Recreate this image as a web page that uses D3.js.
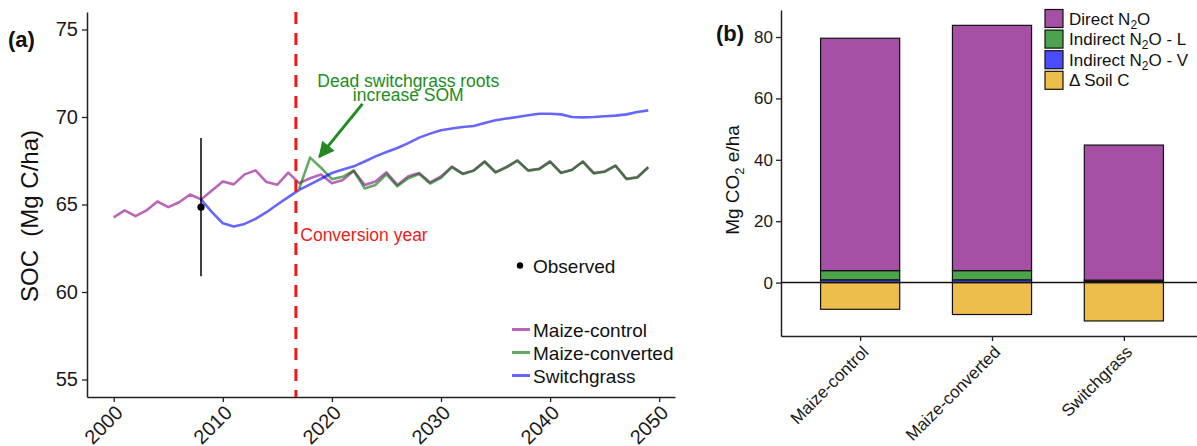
<!DOCTYPE html>
<html>
<head>
<meta charset="utf-8">
<script src="https://cdn.jsdelivr.net/npm/d3@7"></script>
<style>
  body { margin: 0; background: #fff; }
  text { font-family: "Liberation Sans", Arial, sans-serif; }
</style>
</head>
<body>
<script>
// ---- panel (a): SOC through time ----
var years = d3.range(2000, 2050);
var maizeControl = [64.27, 64.66, 64.33, 64.66, 65.17, 64.85, 65.13, 65.57, 65.29, 65.80,
                    66.32, 66.15, 66.72, 66.95, 66.28, 66.13, 66.82, 66.22, 66.50, 66.72,
                    66.22, 66.40, 66.93, 66.12, 66.32, 66.84, 66.12, 66.62, 66.80, 66.26,
                    66.60, 67.16, 66.76, 66.95, 67.46, 66.85, 67.14, 67.52, 66.95, 67.04,
                    67.46, 66.82, 66.99, 67.46, 66.80, 66.89, 67.23, 66.47, 66.56, 67.14];
var convertedStart = 2017;
var maizeConverted = [65.90, 67.68, 67.10, 66.45, 66.58, 66.93, 65.92, 66.12, 66.72, 66.04,
                      66.50, 66.74, 66.20, 66.52, 67.14, 66.74, 66.93, 67.44, 66.83, 67.12,
                      67.50, 66.93, 67.02, 67.44, 66.80, 66.97, 67.44, 66.78, 66.87, 67.21,
                      66.45, 66.54, 67.12];
var switchStart = 2008;
var switchgrass = [65.29, 64.56, 63.93, 63.74, 63.89, 64.18, 64.56, 65.00, 65.42, 65.84,
                   66.15, 66.47, 66.80, 67.00, 67.18, 67.46, 67.75, 68.00, 68.23, 68.51,
                   68.82, 69.05, 69.24, 69.34, 69.43, 69.49, 69.66, 69.81, 69.91, 70.00,
                   70.10, 70.19, 70.19, 70.15, 70.00, 69.98, 70.00, 70.04, 70.08, 70.15,
                   70.29, 70.38];
var observedYear = 2008, observedMean = 64.85, observedErr = 3.95;
var conversionYear = 2016.7;
var xTicksA = [2000, 2010, 2020, 2030, 2040, 2050];
var yTicksA = [55, 60, 65, 70, 75];

// ---- panel (b): CO2 equivalents ----
var categories = ["Maize-control", "Maize-converted", "Switchgrass"];
var directN2O = [75.7, 79.9, 44.0];
var indirectL = [3.0, 3.0, 0.45];
var indirectV = [0.9, 0.9, 0.35];
var soilC = [-8.7, -10.4, -12.5];
var yTicksB = [0, 20, 40, 60, 80];

var svg = d3.select('body').append('svg')
    .attr('width', 1197)
    .attr('height', 446);

var axisColor = '#222';

// ================= panel (a) =================
var xA = d3.scaleLinear().domain([1997.55, 2051.45]).range([87, 675]);
var yA = d3.scaleLinear().domain([54, 76]).range([397, 12]);

var gxA = svg.append('g')
    .attr('transform', 'translate(0,397)')
    .call(d3.axisBottom(xA).tickValues(xTicksA).tickFormat(d3.format('d')).tickSize(5).tickSizeOuter(0));
gxA.selectAll('text')
    .attr('x', 0).attr('y', 0).attr('dy', 0)
    .attr('transform', 'translate(10,17) rotate(-45)')
    .style('text-anchor', 'end');

var gyA = svg.append('g')
    .attr('transform', 'translate(87,0)')
    .call(d3.axisLeft(yA).tickValues(yTicksA).tickSize(5).tickPadding(4).tickSizeOuter(0));

[gxA, gyA].forEach(function (g) {
    g.attr('font-size', 20).attr('font-family', '"Liberation Sans", Arial, sans-serif');
    g.selectAll('text').attr('fill', '#1a1a1a');
    g.select('.domain').attr('stroke', axisColor).attr('stroke-width', 1.5);
    g.selectAll('.tick line').attr('stroke', axisColor).attr('stroke-width', 1.3);
});

var line = d3.line()
    .x(function (d) { return xA(d.year); })
    .y(function (d) { return yA(d.v); });

function toPoints(start, vals) {
    return vals.map(function (v, i) { return { year: start + i, v: v }; });
}

var seriesA = [
    { name: 'Maize-control', color: 'rgb(139,0,139)', pts: toPoints(2000, maizeControl) },
    { name: 'Maize-converted', color: 'rgb(0,112,0)', pts: toPoints(convertedStart, maizeConverted) },
    { name: 'Switchgrass', color: 'rgb(0,0,255)', pts: toPoints(switchStart, switchgrass) }
];

svg.selectAll('path.series')
    .data(seriesA)
    .enter()
    .append('path')
    .attr('class', 'series')
    .attr('d', function (d) { return line(d.pts); })
    .attr('fill', 'none')
    .attr('stroke', function (d) { return d.color; })
    .attr('stroke-opacity', 0.6)
    .attr('stroke-width', 2.6)
    .attr('stroke-linejoin', 'round');

// observed point with error bar
svg.append('line')
    .attr('x1', xA(observedYear)).attr('x2', xA(observedYear))
    .attr('y1', yA(observedMean + observedErr)).attr('y2', yA(observedMean - observedErr))
    .attr('stroke', '#000').attr('stroke-width', 1.5);
svg.append('circle')
    .attr('cx', xA(observedYear)).attr('cy', yA(observedMean))
    .attr('r', 3.6).attr('fill', '#000');

// conversion year
svg.append('line')
    .attr('x1', xA(conversionYear)).attr('x2', xA(conversionYear))
    .attr('y1', yA(76)).attr('y2', yA(54))
    .attr('stroke', '#f01818').attr('stroke-width', 3)
    .attr('stroke-dasharray', '12,9');

svg.append('text')
    .attr('x', xA(2017.1)).attr('y', yA(62.9))
    .attr('font-size', 17.5).attr('fill', '#ee1c1c')
    .text('Conversion year');

// annotation with arrow
var annGreen = 'rgb(34,139,34)';
svg.append('defs').append('marker')
    .attr('id', 'arrowhead')
    .attr('viewBox', '0 0 10 10')
    .attr('refX', 9).attr('refY', 5)
    .attr('markerUnits', 'userSpaceOnUse')
    .attr('markerWidth', 17).attr('markerHeight', 16)
    .attr('orient', 'auto')
    .append('path')
    .attr('d', 'M0,0 L10,5 L0,10 Z')
    .attr('fill', annGreen);

svg.append('line')
    .attr('x1', xA(2022.8)).attr('y1', yA(70.75))
    .attr('x2', xA(2018.85)).attr('y2', yA(67.72))
    .attr('stroke', annGreen).attr('stroke-width', 3)
    .attr('marker-end', 'url(#arrowhead)');

svg.append('text')
    .attr('x', xA(2027)).attr('y', yA(71.72))
    .attr('text-anchor', 'middle')
    .attr('font-size', 17.5).attr('fill', annGreen)
    .text('Dead switchgrass roots');
svg.append('text')
    .attr('x', xA(2027)).attr('y', yA(70.9))
    .attr('text-anchor', 'middle')
    .attr('font-size', 17.5).attr('fill', annGreen)
    .text('increase SOM');

// legend (a)
svg.append('circle').attr('cx', 520).attr('cy', 265.5).attr('r', 3.2).attr('fill', '#000');
svg.append('text').attr('x', 533).attr('y', 272.5).attr('font-size', 19).attr('fill', '#111').text('Observed');

var legA = svg.selectAll('g.legA')
    .data(seriesA)
    .enter()
    .append('g')
    .attr('class', 'legA')
    .attr('transform', function (d, i) { return 'translate(512,' + (329.5 + i * 23) + ')'; });
legA.append('line')
    .attr('x1', 0).attr('x2', 18)
    .attr('stroke', function (d) { return d.color; })
    .attr('stroke-opacity', 0.6)
    .attr('stroke-width', 3);
legA.append('text')
    .attr('x', 21).attr('y', 7)
    .attr('font-size', 19).attr('fill', '#111')
    .text(function (d) { return d.name; });

// titles (a)
svg.append('text')
    .attr('transform', 'translate(38,216) rotate(-90)')
    .attr('text-anchor', 'middle')
    .attr('font-size', 24).attr('fill', '#111')
    .attr('xml:space', 'preserve')
    .text('SOC  (Mg C/ha)');
svg.append('text')
    .attr('x', 8).attr('y', 47)
    .attr('font-size', 22).attr('font-weight', 'bold').attr('fill', '#111')
    .text('(a)');

// ================= panel (b) =================
var xB = d3.scalePoint().domain(categories).range([781, 1203]).padding(0.6);
var stepB = xB.step();
var barW = stepB * 0.6;
var yB = d3.scaleLinear().domain([-17.4, 88.8]).range([336, 10]);

var rows = categories.map(function (c, i) {
    return { cat: c, V: indirectV[i], L: indirectL[i], D: directN2O[i], S: soilC[i] };
});
var keysB = ['V', 'L', 'D', 'S'];
var fillB = { D: '#a54fa5', L: '#4ca34c', V: '#4b4bff', S: '#edbe4b' };
var stacked = d3.stack().keys(keysB).offset(d3.stackOffsetDiverging)(rows);

stacked.forEach(function (layer) {
    svg.append('g').selectAll('rect')
        .data(layer)
        .enter()
        .append('rect')
        .attr('x', function (d) { return xB(d.data.cat) - barW / 2; })
        .attr('y', function (d) { return yB(Math.max(d[0], d[1])); })
        .attr('width', barW)
        .attr('height', function (d) { return Math.abs(yB(d[0]) - yB(d[1])); })
        .attr('fill', fillB[layer.key])
        .attr('stroke', '#111')
        .attr('stroke-width', 1.2);
});

// zero line
svg.append('line')
    .attr('x1', 781).attr('x2', 1197)
    .attr('y1', yB(0)).attr('y2', yB(0))
    .attr('stroke', '#111').attr('stroke-width', 1.5);

var gxB = svg.append('g')
    .attr('transform', 'translate(0,336)')
    .call(d3.axisBottom(xB).tickSize(5).tickSizeOuter(0));
gxB.selectAll('text')
    .attr('x', 0).attr('y', 0).attr('dy', 0)
    .attr('transform', 'translate(9,17) rotate(-45)')
    .style('text-anchor', 'end');

var gyB = svg.append('g')
    .attr('transform', 'translate(781,0)')
    .call(d3.axisLeft(yB).tickValues(yTicksB).tickSize(5).tickPadding(3).tickSizeOuter(0));

[gxB, gyB].forEach(function (g) {
    g.attr('font-size', 17).attr('font-family', '"Liberation Sans", Arial, sans-serif');
    g.selectAll('text').attr('fill', '#1a1a1a');
    g.select('.domain').attr('stroke', axisColor).attr('stroke-width', 1.5);
    g.selectAll('.tick line').attr('stroke', axisColor).attr('stroke-width', 1.3);
});

// legend (b)
var legendB = [
    { key: 'D', parts: [['Direct N', ''], ['2', 'sub'], ['O', '']] },
    { key: 'L', parts: [['Indirect N', ''], ['2', 'sub'], ['O - L', '']] },
    { key: 'V', parts: [['Indirect N', ''], ['2', 'sub'], ['O - V', '']] },
    { key: 'S', parts: [['\u0394 Soil C', '']] }
];
var legB = svg.selectAll('g.legB')
    .data(legendB)
    .enter()
    .append('g')
    .attr('class', 'legB')
    .attr('transform', function (d, i) { return 'translate(1045,' + (9.5 + i * 20.6) + ')'; });
legB.append('rect')
    .attr('width', 18).attr('height', 18)
    .attr('fill', function (d) { return fillB[d.key]; })
    .attr('stroke', '#111').attr('stroke-width', 1.2);
var legBText = legB.append('text')
    .attr('x', 24).attr('y', 15)
    .attr('font-size', 17).attr('fill', '#111');
legBText.selectAll('tspan')
    .data(function (d) { return d.parts; })
    .enter()
    .append('tspan')
    .attr('font-size', function (p) { return p[1] === 'sub' ? 12 : 17; })
    .attr('dy', function (p, i) {
        if (p[1] === 'sub') return 4;
        return i > 0 ? -4 : 0;
    })
    .text(function (p) { return p[0]; });

// titles (b)
var tB = svg.append('text')
    .attr('transform', 'translate(739,180) rotate(-90)')
    .attr('text-anchor', 'middle')
    .attr('font-size', 19).attr('fill', '#111');
tB.append('tspan').text('Mg CO');
tB.append('tspan').attr('font-size', 13).attr('dy', 5).text('2');
tB.append('tspan').attr('dy', -5).text(' e/ha');

svg.append('text')
    .attr('x', 716).attr('y', 41)
    .attr('font-size', 22).attr('font-weight', 'bold').attr('fill', '#111')
    .text('(b)');
</script>
</body>
</html>
